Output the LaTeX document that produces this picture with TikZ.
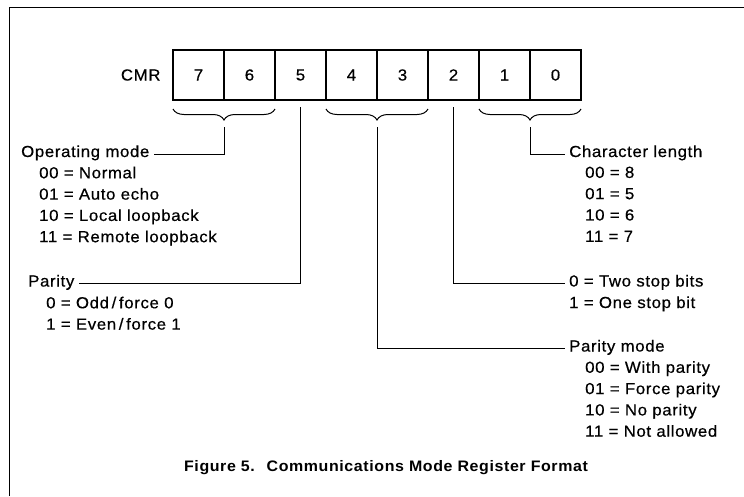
\documentclass[tikz,border=0pt]{standalone}
\usepackage{fontspec}
\setmainfont{Liberation Sans}[FakeStretch=1.05, LetterSpace=4, UprightFeatures={FakeBold=0.5}]
\usetikzlibrary{positioning,decorations.pathreplacing}

\tikzset{
  bitbox/.style={draw, line width=1.8pt, minimum width=51pt, minimum height=50pt, inner sep=0pt, outer sep=0pt},
  lbl/.style={inner sep=0pt, align=left},
  lead/.style={line width=1pt},
  regbrace/.style={decorate, decoration={brace, mirror, amplitude=11pt}, line width=1pt}
}

\begin{document}
\begin{tikzpicture}[x=1pt, y=-1pt, font=\fontsize{16}{21.3}\selectfont]
  \useasboundingbox (0,0) rectangle (744,496);
  \draw[line width=1pt] (9,496) -- (9,7) -- (744,7);

  % register cells
  \node[bitbox] (b7) at (198.5,75) {7};
  \node[bitbox, right=0pt of b7] (b6) {6};
  \node[bitbox, right=0pt of b6] (b5) {5};
  \node[bitbox, right=0pt of b5] (b4) {4};
  \node[bitbox, right=0pt of b4] (b3) {3};
  \node[bitbox, right=0pt of b3] (b2) {2};
  \node[bitbox, right=0pt of b2] (b1) {1};
  \node[bitbox, right=0pt of b1] (b0) {0};
  \node[left=9pt of b7] (cmr) {CMR};

  % braces under the bit pairs
  \draw[regbrace] ([yshift=-9pt]b7.south west) -- ([yshift=-9pt]b6.south east);
  \draw[regbrace] ([yshift=-9pt]b4.south west) -- ([yshift=-9pt]b3.south east);
  \draw[regbrace] ([yshift=-9pt]b1.south west) -- ([yshift=-9pt]b0.south east);
  \coordinate (t76) at ([yshift=-27pt]b7.south east);
  \coordinate (t43) at ([yshift=-27pt]b4.south east);
  \coordinate (t10) at ([yshift=-27pt]b1.south east);
  \coordinate (t5) at ([yshift=-7pt]b5.south);
  \coordinate (t2) at ([yshift=-7pt]b2.south);

  % left side
  \node[lbl, anchor=base west] (opmode) at (21,157) {Operating mode};
  \node[lbl, anchor=north west] (opvals) at (39,166.5) {00 = Normal\\01 = Auto echo\\10 = Local loopback\\11 = Remote loopback};
  \node[lbl, anchor=base west] (par) at (28,286.5) {Parity};
  \node[lbl, anchor=north west] (parvals) at (46,296.5) {0 = Odd\,/\,force 0\\1 = Even\,/\,force 1};

  % right side
  \node[lbl, anchor=base west] (charlen) at (569,157) {Character length};
  \node[lbl, anchor=north west] (charvals) at (585,166.5) {00 = 8\\01 = 5\\10 = 6\\11 = 7};
  \node[lbl, anchor=base west] (stop0) at (569,286.5) {0 = Two stop bits};
  \node[lbl, anchor=base west] (stop1) at (569,308) {1 = One stop bit};
  \node[lbl, anchor=base west] (pmode) at (569,351.5) {Parity mode};
  \node[lbl, anchor=north west] (pmodevals) at (585,361) {00 = With parity\\01 = Force parity\\10 = No parity\\11 = Not allowed};

  % leader lines
  \draw[lead] (t76) |- ([xshift=4pt]opmode.mid east);
  \draw[lead] (t5) |- ([xshift=4pt]par.mid east);
  \draw[lead] (t10) |- ([xshift=-4pt]charlen.mid west);
  \draw[lead] (t2) |- ([xshift=-4pt]stop0.mid west);
  \draw[lead] (t43) |- ([xshift=-4pt]pmode.mid west);

  \node[font=\fontsize{15.2}{17}\selectfont\bfseries] (cap) at (386,468) {Figure 5.~ Communications Mode Register Format};
\end{tikzpicture}
\end{document}
